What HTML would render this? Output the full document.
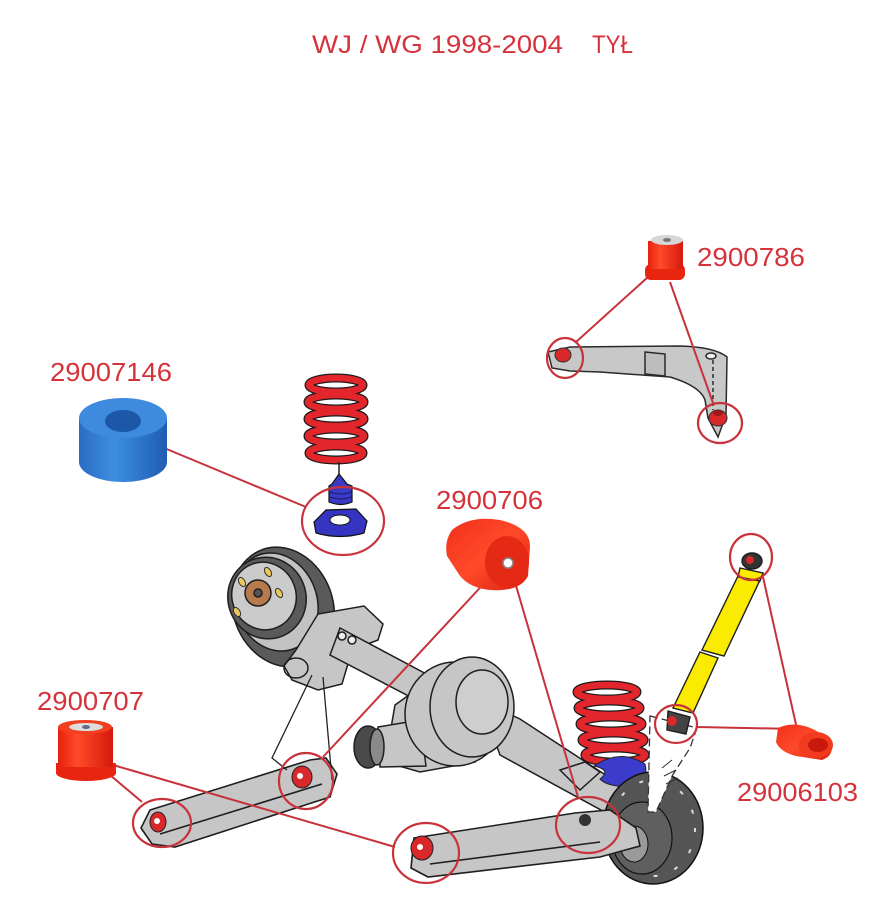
<!DOCTYPE html>
<html><head><meta charset="utf-8">
<style>
html,body{margin:0;padding:0;background:#fff;}
svg{display:block;}
.lb{font-family:"Liberation Sans",sans-serif;fill:#d5323b;}
</style></head><body>
<svg width="891" height="900" viewBox="0 0 891 900" xmlns="http://www.w3.org/2000/svg">
<defs>
 <linearGradient id="rg" x1="0" y1="0" x2="1" y2="0">
  <stop offset="0" stop-color="#e8200f"/><stop offset="0.35" stop-color="#ff4a2a"/><stop offset="1" stop-color="#d41a0c"/>
 </linearGradient>
 <linearGradient id="rg2" x1="0" y1="0" x2="1" y2="1">
  <stop offset="0" stop-color="#f0301a"/><stop offset="0.5" stop-color="#ff4a2a"/><stop offset="1" stop-color="#d8200e"/>
 </linearGradient>
 <linearGradient id="bg" x1="0" y1="0" x2="1" y2="0">
  <stop offset="0" stop-color="#2a6cc4"/><stop offset="0.4" stop-color="#3c8ee0"/><stop offset="1" stop-color="#1f5cb2"/>
 </linearGradient>
</defs>
<rect width="891" height="900" fill="#fff"/>

<!-- Title -->
<text class="lb" x="312" y="53" font-size="25" textLength="251" lengthAdjust="spacingAndGlyphs">WJ / WG 1998-2004</text>
<text class="lb" x="592" y="53" font-size="25" textLength="41" lengthAdjust="spacingAndGlyphs">TYŁ</text>

<!-- Upper control arm -->
<g stroke="#2a2a2a" stroke-width="1.5" fill="#c8c8c8">
 <path d="M548,352 L570,347 L680,346 Q715,347 727,357 L726,415 L718,437 L708,418 L705,400 Q700,386 670,377 L600,372 L570,371 L552,368 Z"/>
 <path d="M645,352 L665,354 L665,376 L645,374 Z" fill="#bdbdbd"/>
 <line x1="713" y1="360" x2="713" y2="410" stroke-dasharray="4 3"/>
 <ellipse cx="711" cy="356" rx="5" ry="3" fill="#eee"/>
</g>
<ellipse cx="563" cy="355" rx="8" ry="7" fill="#d8282a" stroke="#333" stroke-width="1"/>
<ellipse cx="718" cy="418" rx="9" ry="8" fill="#d8282a" stroke="#333" stroke-width="1"/>
<ellipse cx="718" cy="413" rx="5" ry="3" fill="#a01818"/>

<!-- Spring 1 -->
<g fill="none">
 <g stroke="#1a1a1a" stroke-width="9">
  <ellipse cx="336" cy="385" rx="27" ry="7"/><ellipse cx="336" cy="402" rx="28" ry="7"/><ellipse cx="336" cy="419" rx="28" ry="7"/><ellipse cx="336" cy="436" rx="28" ry="7"/><ellipse cx="336" cy="453" rx="27" ry="7"/>
 </g>
 <g stroke="#e3262c" stroke-width="6.5">
  <ellipse cx="336" cy="385" rx="27" ry="7"/><ellipse cx="336" cy="402" rx="28" ry="7"/><ellipse cx="336" cy="419" rx="28" ry="7"/><ellipse cx="336" cy="436" rx="28" ry="7"/><ellipse cx="336" cy="453" rx="27" ry="7"/>
 </g>
</g>
<line x1="339" y1="462" x2="339" y2="476" stroke="#222" stroke-width="1.5"/>
<path d="M332,484 L339,474 L347,484 L352,486 L352,502 Q341,507 329,502 L329,486 Z" fill="#3a3ac4" stroke="#111" stroke-width="1.2"/>
<path d="M330,492 Q341,496 351,492 M330,497 Q341,501 351,497" stroke="#1a1a70" fill="none"/>
<path d="M314,522 L326,510 L356,509 L367,521 L364,533 Q340,540 316,533 Z" fill="#3535c2" stroke="#111" stroke-width="1.2"/>
<ellipse cx="340" cy="520" rx="10" ry="5" fill="#fff" stroke="#111"/>

<!-- Drum -->
<g stroke="#1e1e1e" stroke-width="1.5">
 <ellipse cx="283" cy="607" rx="50" ry="61" transform="rotate(-20 283 607)" fill="#5a5a5a"/>
 <ellipse cx="276" cy="602" rx="41" ry="50" transform="rotate(-20 276 602)" fill="#c2c2c2"/>
 <ellipse cx="267" cy="598" rx="39" ry="41" transform="rotate(-20 267 598)" fill="#5a5a5a"/>
 <ellipse cx="264" cy="596" rx="32" ry="34" transform="rotate(-20 264 596)" fill="#cbcbcb"/>
 <circle cx="258" cy="593" r="13" fill="#b77a4c"/>
 <circle cx="258" cy="593" r="4" fill="#555"/>
</g>
<g fill="#e8c85a" stroke="#333" stroke-width="1">
 <ellipse cx="268" cy="572" rx="3" ry="5" transform="rotate(-30 268 572)"/>
 <ellipse cx="242" cy="582" rx="3" ry="5" transform="rotate(-30 242 582)"/>
 <ellipse cx="279" cy="593" rx="3" ry="5" transform="rotate(-30 279 593)"/>
 <ellipse cx="237" cy="612" rx="3" ry="5" transform="rotate(-30 237 612)"/>
</g>

<!-- Bracket near drum & left axle tube -->
<g stroke="#1e1e1e" stroke-width="1.5" fill="#c6c6c6">
 <path d="M296,650 L318,614 L364,606 L383,624 L378,640 L352,650 L342,684 L318,690 L292,680 L284,666 Z"/>
 <path d="M340,628 L430,676 L420,702 L330,655 Z"/>
 <ellipse cx="296" cy="668" rx="12" ry="10" fill="none"/>
 <circle cx="342" cy="636" r="4" fill="#eee"/>
 <circle cx="352" cy="640" r="4" fill="#eee"/>
</g>

<!-- Differential -->
<g stroke="#1e1e1e" stroke-width="1.5" fill="#c6c6c6">
 <!-- right axle tube (behind housing) -->
 <path d="M480,700 L520,719 L656,808 L645,834 L500,755 Z"/>
 <path d="M560,770 L585,762 L600,772 L580,790 Z"/>
 <path d="M395,705 L430,680 L470,690 L475,762 L420,772 L385,762 Z"/>
 <path d="M378,727 L420,720 L426,766 L380,767 Z"/>
 <ellipse cx="368" cy="747" rx="14" ry="21" fill="#4a4a4a"/>
 <ellipse cx="377" cy="747" rx="7" ry="18" fill="#8a8a8a"/>
 <ellipse cx="455" cy="714" rx="50" ry="52"/>
 <ellipse cx="472" cy="707" rx="42" ry="50"/>
 <ellipse cx="482" cy="702" rx="26" ry="32" fill="#cecece"/>
</g>

<!-- Right spring -->
<g fill="none">
 <g stroke="#1a1a1a" stroke-width="9">
  <ellipse cx="607" cy="692" rx="30" ry="7"/><ellipse cx="609" cy="708" rx="31" ry="7"/><ellipse cx="611" cy="724" rx="31" ry="7"/><ellipse cx="613" cy="740" rx="31" ry="7"/><ellipse cx="615" cy="755" rx="30" ry="7"/>
 </g>
 <g stroke="#e3262c" stroke-width="6.5">
  <ellipse cx="607" cy="692" rx="30" ry="7"/><ellipse cx="609" cy="708" rx="31" ry="7"/><ellipse cx="611" cy="724" rx="31" ry="7"/><ellipse cx="613" cy="740" rx="31" ry="7"/><ellipse cx="615" cy="755" rx="30" ry="7"/>
 </g>
</g>
<path d="M594,766 Q620,748 645,764 Q650,784 628,787 Q606,786 600,779 Q612,770 594,766 Z" fill="#3b3bcc" stroke="#222" stroke-width="1"/>

<!-- Disc -->
<ellipse cx="653" cy="828" rx="50" ry="56" fill="#555" stroke="#111" stroke-width="1.5"/>
<ellipse cx="653" cy="828" rx="42" ry="48" fill="none" stroke="#ddd" stroke-width="2" stroke-dasharray="4 18"/>
<ellipse cx="642" cy="838" rx="30" ry="36" fill="#5f5f5f" stroke="#111" stroke-width="1.2"/>
<ellipse cx="634" cy="844" rx="14" ry="18" fill="#9a9a9a" stroke="#111"/>
<!-- white bracket -->
<path d="M650,716 L697,728 L690,748 L672,776 L656,812 L648,812 Z" fill="#fff" stroke="#333" stroke-width="1.3" stroke-dasharray="8 4"/>
<path d="M662,768 L672,760 M664,776 L676,770 M666,784 L678,778" stroke="#333" stroke-width="1"/>

<!-- Lower arms -->
<g stroke="#1e1e1e" stroke-width="1.6" fill="#c6c6c6">
 <path d="M150,810 L310,760 L326,758 L337,774 L330,797 L175,847 L152,844 L141,828 Z"/>
 <path d="M160,834 L322,784" fill="none"/>
 <path d="M414,838 L575,813 L610,810 L636,828 L640,846 L600,857 L428,877 L411,868 Z"/>
 <path d="M430,864 L600,842" fill="none"/>
</g>
<ellipse cx="158" cy="822" rx="8" ry="10" fill="#d8282a" stroke="#222"/>
<circle cx="157" cy="821" r="3" fill="#fff"/>
<ellipse cx="302" cy="777" rx="10" ry="11" fill="#d8282a" stroke="#222"/>
<circle cx="300" cy="776" r="3" fill="#fff"/>
<ellipse cx="422" cy="848" rx="11" ry="12" fill="#d8282a" stroke="#222"/>
<circle cx="420" cy="847" r="3" fill="#fff"/>
<circle cx="585" cy="820" r="6" fill="#333"/>

<!-- thin black bracket lines -->
<g stroke="#222" stroke-width="1.3" fill="none">
 <polyline points="312,675 272,758 287,770"/>
 <line x1="323" y1="677" x2="332" y2="780"/>
</g>

<!-- Shock -->
<g stroke="#1e1e1e" stroke-width="1.4">
 <path d="M738,576 L760,580 L724,656 L702,650 Z" fill="#fbeb00"/>
 <path d="M700,652 L718,658 L693,713 L673,708 Z" fill="#fbeb00"/>
 <path d="M740,568 L763,573 L760,581 L738,577 Z" fill="#fbeb00"/>
 <ellipse cx="752" cy="561" rx="10" ry="8" fill="#333"/>
 <path d="M668,711 L690,717 L686,734 L667,730 Z" fill="#444"/>
</g>
<circle cx="750" cy="560" r="4" fill="#d8282a"/>
<circle cx="672" cy="721" r="5" fill="#d8282a"/>

<!-- Red connector lines -->
<g stroke="#c8323a" stroke-width="2" fill="none">
 <line x1="648" y1="277" x2="576" y2="342"/>
 <line x1="670" y1="282" x2="713" y2="403"/>
 <line x1="157" y1="445" x2="306" y2="507"/>
 <line x1="490" y1="577" x2="323" y2="757"/>
 <line x1="512" y1="572" x2="578" y2="797"/>
 <line x1="110" y1="775" x2="142" y2="802"/>
 <line x1="113" y1="765" x2="395" y2="847"/>
 <line x1="763" y1="577" x2="797" y2="729"/>
 <line x1="697" y1="727" x2="797" y2="729"/>
</g>
<!-- Red circles -->
<g stroke="#c8323a" stroke-width="2.2" fill="none">
 <ellipse cx="565" cy="358" rx="18" ry="20"/>
 <ellipse cx="720" cy="423" rx="22" ry="20"/>
 <ellipse cx="343" cy="521" rx="41" ry="34"/>
 <ellipse cx="162" cy="823" rx="29" ry="24"/>
 <ellipse cx="306" cy="781" rx="27" ry="28"/>
 <ellipse cx="426" cy="853" rx="33" ry="30"/>
 <ellipse cx="588" cy="825" rx="32" ry="28"/>
 <ellipse cx="751" cy="557" rx="21" ry="23"/>
 <ellipse cx="676" cy="724" rx="21" ry="19"/>
</g>

<!-- Product: 2900786 -->
<rect x="645" y="264" width="40" height="16" rx="6" fill="#e8260f"/>
<rect x="648" y="241" width="35" height="28" fill="url(#rg)"/>
<ellipse cx="667" cy="240" rx="16" ry="5" fill="#d6d6d6"/>
<ellipse cx="667" cy="240" rx="4" ry="2" fill="#777"/>

<!-- Product: blue bushing 29007146 -->
<path d="M79,418 L79,462 A44,20 0 0 0 167,462 L167,418 Z" fill="url(#bg)"/>
<ellipse cx="123" cy="418" rx="44" ry="20" fill="#3d8ade"/>
<ellipse cx="123" cy="421" rx="18" ry="11" fill="#1c57a8"/>

<!-- Product: 2900706 -->
<path d="M452,530 Q470,515 500,520 Q530,527 530,546 L528,576 Q520,592 490,590 Q470,588 460,576 L447,556 Q444,541 452,530 Z" fill="url(#rg2)"/>
<ellipse cx="507" cy="562" rx="22" ry="26" fill="#e42a14"/>
<circle cx="508" cy="563" r="5" fill="#fff" stroke="#888" stroke-width="1.5"/>

<!-- Product: 2900707 -->
<path d="M56,763 L56,773 A30,8 0 0 0 116,773 L116,763 Z" fill="#e8260f"/>
<rect x="58" y="727" width="55" height="40" fill="url(#rg)"/>
<ellipse cx="85" cy="727" rx="27" ry="7" fill="#f04020"/>
<ellipse cx="86" cy="727" rx="17" ry="4" fill="#ddd"/>
<ellipse cx="86" cy="727" rx="4" ry="2" fill="#668"/>

<!-- Product: 29006103 -->
<path d="M778,728 Q795,720 815,730 L830,740 Q836,755 822,760 L796,756 Q780,752 776,742 Z" fill="url(#rg2)"/>
<ellipse cx="816" cy="745" rx="17" ry="13" fill="#f23a1e"/>
<ellipse cx="818" cy="745" rx="10" ry="7" fill="#c81a0c"/>

<!-- Labels -->
<text class="lb" x="697" y="266" font-size="26" textLength="108" lengthAdjust="spacingAndGlyphs">2900786</text>
<text class="lb" x="50" y="381" font-size="26" textLength="122" lengthAdjust="spacingAndGlyphs">29007146</text>
<text class="lb" x="436" y="509" font-size="26" textLength="107" lengthAdjust="spacingAndGlyphs">2900706</text>
<text class="lb" x="37" y="710" font-size="26" textLength="107" lengthAdjust="spacingAndGlyphs">2900707</text>
<text class="lb" x="737" y="801" font-size="26" textLength="121" lengthAdjust="spacingAndGlyphs">29006103</text>
</svg>
</body></html>
